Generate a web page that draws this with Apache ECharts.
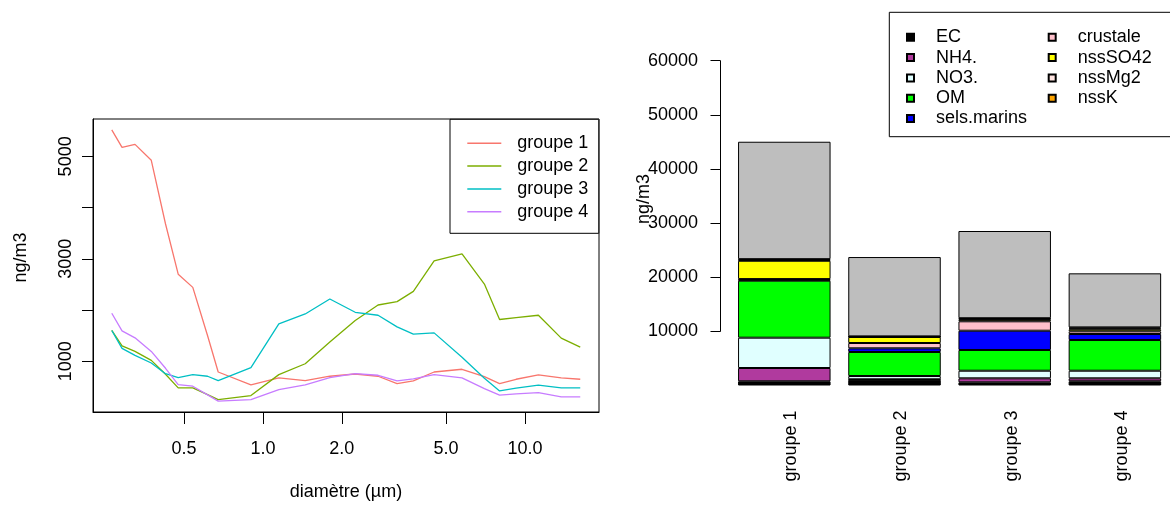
<!DOCTYPE html>
<html>
<head>
<meta charset="utf-8">
<script src="https://cdn.jsdelivr.net/npm/echarts@6/dist/echarts.min.js"></script>
<style>
html,body{margin:0;padding:0;background:#fff;}
#chart{width:1170px;height:506px;}
</style>
</head>
<body>
<div id="chart"></div>
<script>
// ---- Left chart: mass size distributions ----
const diam = [0.265,0.29,0.325,0.375,0.425,0.475,0.54,0.615,0.675,0.9,1.15,1.45,1.8,2.25,2.75,3.25,3.75,4.5,5.75,7,8,9.25,11.25,13.75,16.25];
const groupe1 = [5517,5175,5234,4923,3680,2701,2443,1500,792,540,676,623,709,753,709,565,617,792,845,700,565,650,735,676,650];
const groupe2 = [1602,1303,1194,1019,748,481,481,351,254,332,740,953,1375,1796,2099,2165,2365,2961,3097,2507,1816,1854,1899,1452,1278];
const groupe3 = [1602,1252,1117,967,759,682,740,709,623,876,1730,1924,2216,1957,1899,1672,1530,1555,1080,670,423,475,534,481,481];
const groupe4 = [1938,1594,1458,1194,864,546,514,346,223,254,448,540,682,759,728,617,656,740,676,468,340,365,390,307,307];
const lineNames = ['groupe 1','groupe 2','groupe 3','groupe 4'];
const lineColors = ['#F8766D','#7CAE00','#00BFC4','#C77CFF'];
const xTicks = [0.5,1,2,5,10];
const yTicksLeft = [1000,2000,3000,4000,5000];
const yLabelsLeft = [1000,3000,5000];

// ---- Right chart: stacked chemical composition ----
const groups = ['groupe 1','groupe 2','groupe 3','groupe 4'];
const EC = [780,1050,590,780];
const NH4 = [2450,100,740,550];
const NO3 = [5600,600,1400,1400];
const OM = [10530,4440,3830,5670];
const selsMarins = [150,680,3560,1110];
const crustale = [150,980,1740,500];
const nssSO42 = [3380,1110,300,370];
const nssMg2 = [150,60,150,180];
const nssK = [150,60,120,180];
const autres = [21690,14650,16110,9980];
const compNames = ['EC','NH4.','NO3.','OM','sels.marins','crustale','nssSO42','nssMg2','nssK','autres'];
const compData = [EC,NH4,NO3,OM,selsMarins,crustale,nssSO42,nssMg2,nssK,autres];
const compColors = ['#000000','#B03A9E','#E0FFFF','#00FF00','#0000FF','#FFC0CB','#FFFF00','#FFE4E1','#FFA500','#BEBEBE'];

const FONT = 'Liberation Sans, Arial, Helvetica, sans-serif';
const plain = (v)=>String(Math.round(v));
const series = [];
const seriesGroups = [groupe1,groupe2,groupe3,groupe4];
lineNames.forEach((n,k)=>{
  series.push({
    name:n, type:'line', xAxisIndex:0, yAxisIndex:0, symbol:'none',
    data: diam.map((d,i)=>[d, seriesGroups[k][i]]),
    lineStyle:{color:lineColors[k], width:1.3}, itemStyle:{color:lineColors[k]}
  });
});
compNames.forEach((n,k)=>{
  series.push({
    name:n, type:'bar', xAxisIndex:1, yAxisIndex:1, stack:'total', barWidth:92.5,
    data: compData[k],
    itemStyle:{color:compColors[k], borderColor:'#000', borderWidth:1}
  });
});

const chart = echarts.init(document.getElementById('chart'), null, {renderer:'canvas'});
chart.setOption({
  animation:false,
  backgroundColor:'#fff',
  textStyle:{fontFamily:FONT},
  grid:[
    {left:93, top:119, width:506, height:295, show:true, borderColor:'#000', borderWidth:1},
    {left:729.2, top:60.7, width:446.7, height:324.8},
    {left:720, top:60.7, width:10, height:270.7}
  ],
  xAxis:[
    {gridIndex:0, type:'log', logBase:10, min:0.2247, max:19.16,
     name:'diamètre (µm)', nameLocation:'middle', nameGap:71, nameMoveOverlap:false,
     nameTextStyle:{fontSize:18, color:'#000', fontFamily:FONT},
     axisLine:{show:true, lineStyle:{color:'#000', width:1}},
     axisTick:{show:true, length:12, customValues:xTicks, lineStyle:{color:'#000'}},
     axisLabel:{customValues:xTicks, formatter:(v)=>Number(v).toFixed(1), margin:28, fontSize:18, color:'#000', fontFamily:FONT},
     splitLine:{show:false}, minorTick:{show:false}, minorSplitLine:{show:false}},
    {gridIndex:1, type:'category', data:groups,
     axisLine:{show:false}, axisTick:{show:false},
     axisLabel:{rotate:90, interval:0, margin:25, fontSize:18, lineHeight:14, verticalAlign:'top', color:'#000', fontFamily:FONT},
     splitLine:{show:false}},
    {gridIndex:2, type:'value', show:false}
  ],
  yAxis:[
    {gridIndex:0, type:'value', min:11, max:5729,
     name:'ng/m3', nameLocation:'middle', nameGap:63, nameMoveOverlap:false,
     nameTextStyle:{fontSize:18, color:'#000', fontFamily:FONT, padding:[0,0,0,16]},
     axisLine:{show:true, lineStyle:{color:'#000', width:1}},
     axisTick:{show:true, length:11, customValues:yTicksLeft, lineStyle:{color:'#000'}},
     axisLabel:{customValues:yLabelsLeft, formatter:plain, rotate:90, margin:18, fontSize:18, color:'#000', fontFamily:FONT},
     splitLine:{show:false}},
    {gridIndex:1, type:'value', min:0, max:60000, show:false},
    {gridIndex:2, type:'value', min:10000, max:60000, interval:10000,
     name:'ng/m3', nameLocation:'middle', nameGap:67, nameMoveOverlap:false,
     nameTextStyle:{fontSize:18, color:'#000', fontFamily:FONT, padding:[0,6,0,0]},
     axisLine:{show:true, lineStyle:{color:'#000', width:1}},
     axisTick:{show:true, length:9.5, lineStyle:{color:'#000'}},
     axisLabel:{formatter:plain, margin:22, fontSize:18, color:'#000', fontFamily:FONT},
     splitLine:{show:false}}
  ],
  legend:[
    {data:lineNames, orient:'vertical', left:450, top:119.3, padding:[12.6,10.4,10.2,17.3],
     itemGap:0, itemWidth:34, itemHeight:1.5, icon:'rect', selectedMode:false,
     borderColor:'#000', borderWidth:1, backgroundColor:'#fff',
     textStyle:{fontSize:18, lineHeight:22.8, color:'#000', fontFamily:FONT, padding:[0,0,0,11]}},
    {data:compNames.slice(0,5), orient:'vertical', left:889.3, top:12.3, padding:[14.85,150,8.05,16.7],
     itemGap:0, itemWidth:7, itemHeight:7, icon:'rect', selectedMode:false,
     borderColor:'#000', borderWidth:1, backgroundColor:'#fff',
     textStyle:{fontSize:18, lineHeight:20.3, color:'#000', fontFamily:FONT, padding:[0,0,0,17]}},
    {data:compNames.slice(5,9), orient:'vertical', left:1047.7, top:27.15, padding:0,
     itemGap:0, itemWidth:7, itemHeight:7, icon:'rect', selectedMode:false,
     textStyle:{fontSize:18, lineHeight:20.3, color:'#000', fontFamily:FONT, padding:[0,0,0,17]}}
  ],
  series: series
});
</script>
</body>
</html>
